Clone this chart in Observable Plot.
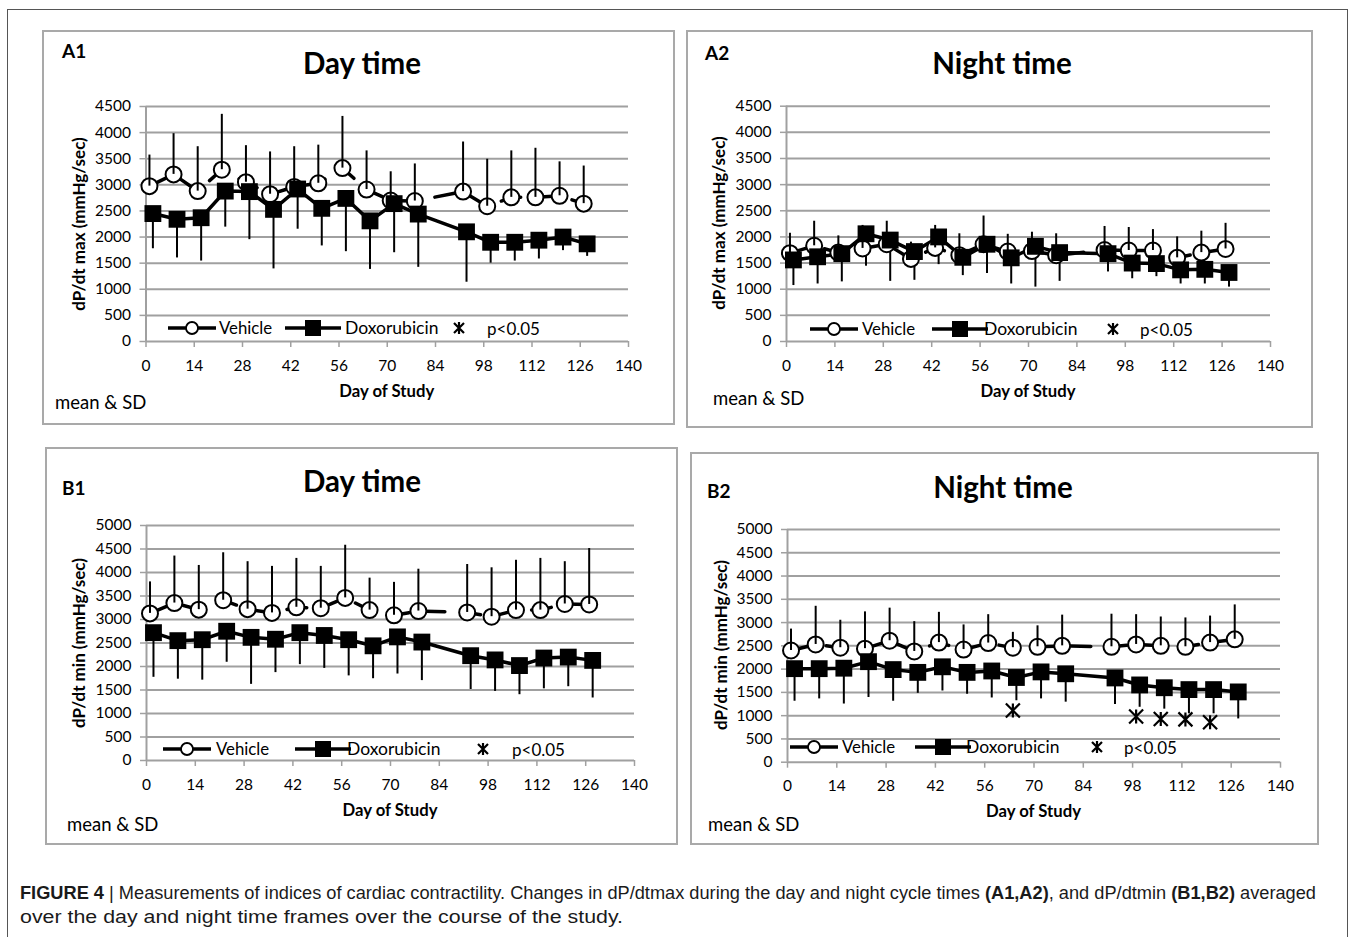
<!DOCTYPE html>
<html><head><meta charset="utf-8">
<script src="https://cdn.jsdelivr.net/npm/d3@7"></script>
<script src="https://cdn.jsdelivr.net/npm/@observablehq/plot@0.6"></script>
<style>
body{margin:0;background:#fff;overflow:hidden;}
#fig{position:relative;width:1355px;height:937px;overflow:hidden;font-family:Lato,sans-serif;color:#000;background:#fff;}
.abs{position:absolute;white-space:nowrap;line-height:1;}
.box{position:absolute;border:2px solid #a9a9a9;box-sizing:border-box;}
.frame{position:absolute;border:1.5px solid #555;box-sizing:border-box;}
</style></head><body><div id="fig"></div>
<script>
// ---------- data ----------
const vehicleDays = [1,8,15,22,29,36,43,50,57,64,71,78,92,99,106,113,120,127];
const doxDays     = [2,9,16,23,30,37,44,51,58,65,72,79,93,100,107,114,121,128];
const xTickValues = [0,14,28,42,56,70,84,98,112,126,140];

// A1: dP/dt max, day time
const a1VehicleMean = [2975,3200,2880,3290,3050,2820,2960,3030,3320,2910,2700,2690,2870,2590,2760,2760,2790,2640];
const a1VehicleSD   = [595,780,850,1060,700,810,770,730,990,740,550,710,950,900,890,940,650,720];
const a1DoxMean     = [2450,2340,2370,2880,2870,2530,2920,2550,2740,2310,2640,2440,2100,1900,1900,1940,2000,1870];
const a1DoxSD       = [674,740,830,690,920,1140,770,720,1020,930,940,1020,965,400,360,360,260,240];

// A2: dP/dt max, night time
const a2VehicleMean = [1690,1830,1700,1780,1860,1580,1790,1650,1860,1720,1730,1650,1750,1740,1740,1600,1700,1770];
const a2VehicleSD   = [380,470,320,440,440,320,430,410,540,330,360,410,450,440,400,400,410,490];
const a2DoxMean     = [1560,1620,1680,2060,1940,1720,2000,1610,1860,1600,1820,1700,1680,1500,1490,1370,1380,1320];
const a2DoxSD       = [490,520,540,620,790,550,530,350,560,500,780,550,350,300,250,270,280,280];

// B1: dP/dt min, day time
const b1VehicleMean = [3130,3350,3210,3410,3220,3140,3260,3240,3460,3200,3090,3180,3150,3060,3200,3200,3330,3320];
const b1VehicleSD   = [670,1000,940,1010,1010,990,1040,890,1120,680,700,890,1020,1040,1060,1100,900,1190];
const b1DoxMean     = [2720,2550,2570,2750,2620,2580,2720,2660,2570,2440,2630,2520,2230,2140,2020,2180,2200,2130];
const b1DoxSD       = [950,820,860,660,1000,710,680,700,770,700,790,820,720,670,620,655,630,800];

// B2: dP/dt min, night time
const b2VehicleMean = [2400,2530,2460,2440,2610,2380,2570,2420,2560,2460,2480,2500,2480,2530,2500,2480,2570,2640];
const b2VehicleSD   = [460,820,590,790,700,640,650,530,610,330,450,660,700,640,620,620,570,740];
const b2DoxMean     = [2010,2010,2020,2160,1990,1930,2050,1930,1960,1820,1940,1900,1810,1660,1600,1560,1560,1510];
const b2DoxSD       = [700,650,770,770,680,450,520,470,580,500,580,610,570,480,460,520,520,580];
const b2StarDays    = [64,99,106,113,120];
const b2StarValues  = [1110,980,930,920,860];

const legendLabels = ["Vehicle","Doxorubicin","p<0.05"];
// ---------- layout ----------
const panels = [
  {id:"A1", title:"Day time", ylabel:"dP/dt max (mmHg/sec)", ymax:4500,
   box:[42,30,633,395], plot:[145.5,628,106,341],
   veh:[a1VehicleMean,a1VehicleSD], dox:[a1DoxMean,a1DoxSD], stars:[[],[]],
   tag:[62,50], titleX:362, titleY:63, yTitleX:78, xTitleY:391, meanSD:[55,402],
   legY:328, legX:[168,219,285,345,459,487]},
  {id:"A2", title:"Night time", ylabel:"dP/dt max (mmHg/sec)", ymax:4500,
   box:[686,30,627,398], plot:[786,1270,105.7,341],
   veh:[a2VehicleMean,a2VehicleSD], dox:[a2DoxMean,a2DoxSD], stars:[[],[]],
   tag:[705,52], titleX:1002, titleY:63, yTitleX:718, xTitleY:391, meanSD:[713,398],
   legY:329, legX:[810,862,932,984,1113,1140]},
  {id:"B1", title:"Day time", ylabel:"dP/dt min (mmHg/sec)", ymax:5000,
   box:[45,447,633,398], plot:[146,634,525,760],
   veh:[b1VehicleMean,b1VehicleSD], dox:[b1DoxMean,b1DoxSD], stars:[[],[]],
   tag:[62,487], titleX:362, titleY:481, yTitleX:78, xTitleY:810, meanSD:[67,824],
   legY:749, legX:[163,216,295,347,483,512]},
  {id:"B2", title:"Night time", ylabel:"dP/dt min (mmHg/sec)", ymax:5000,
   box:[690,452,629,393], plot:[787,1280,529,761.7],
   veh:[b2VehicleMean,b2VehicleSD], dox:[b2DoxMean,b2DoxSD], stars:[b2StarDays,b2StarValues],
   tag:[707,490], titleX:1003, titleY:487, yTitleX:720, xTitleY:811, meanSD:[708,824],
   legY:747, legX:[790,842,915,966,1097,1124]}
];

const fig = document.getElementById("fig");
function addDiv(cls, css, html){
  const d = document.createElement("div");
  d.className = cls; d.style.cssText = css; if (html != null) d.innerHTML = html;
  fig.appendChild(d); return d;
}
const starSymbol = {
  draw(ctx, size){
    const r = Math.sqrt(size/Math.PI);
    ctx.moveTo(-r,-r); ctx.lineTo(r,r);
    ctx.moveTo(r,-r); ctx.lineTo(-r,r);
    ctx.moveTo(0,-r); ctx.lineTo(0,r);
  }
};

addDiv("frame","left:7px;top:9px;width:1341px;height:1000px;");

for (const p of panels){
  const [bx,by,bw,bh] = p.box;
  const [x0,x1,yTop,y0] = p.plot;
  const veh = vehicleDays.map((d,i)=>({day:d, mean:p.veh[0][i], sd:p.veh[1][i]}));
  const dox = doxDays.map((d,i)=>({day:d, mean:p.dox[0][i], sd:p.dox[1][i]}));
  const stars = p.stars[0].map((d,i)=>({day:d, v:p.stars[1][i]}));
  const yTicks = d3.range(0, p.ymax+1, 500);
  const svg = Plot.plot({
    width: bw, height: bh,
    marginLeft: x0-bx, marginRight: bx+bw-x1, marginTop: yTop-by, marginBottom: by+bh-y0,
    x:{domain:[0,140]}, y:{domain:[0,p.ymax]},
    style:{fontFamily:"Lato, sans-serif", fontSize:"15.5px", background:"transparent", overflow:"visible", color:"#000"},
    marks:[
      Plot.gridY(yTicks.filter(v=>v>0), {stroke:"#a0a0a0", strokeOpacity:1, strokeWidth:2}),
      Plot.ruleX([0], {stroke:"#a0a0a0", strokeWidth:2}),
      Plot.ruleY([0], {stroke:"#a0a0a0", strokeWidth:2}),
      Plot.axisY(yTicks, {tickSize:6, tickPadding:9, stroke:"#a0a0a0", strokeWidth:1.5, fill:"#000", label:null, tickFormat:d=>String(d)}),
      Plot.axisX(xTickValues, {tickSize:6, tickPadding:12, stroke:"#a0a0a0", strokeWidth:1.5, fill:"#000", label:null, tickFormat:d=>String(d)}),
      Plot.line(veh, {x:"day", y:"mean", stroke:"#000", strokeWidth:3.5, strokeDasharray:"20,16"}),
      Plot.line(dox, {x:"day", y:"mean", stroke:"#000", strokeWidth:3.5}),
      Plot.ruleX(dox, {x:"day", y1:d=>d.mean-d.sd, y2:"mean", stroke:"#000", strokeWidth:2}),
      Plot.dot(veh, {x:"day", y:"mean", r:8, fill:"#fff", stroke:"#000", strokeWidth:2}),
      Plot.ruleX(veh, {x:"day", y1:"mean", y2:d=>d.mean+d.sd, stroke:"#000", strokeWidth:2}),
      Plot.dot(dox, {x:"day", y:"mean", symbol:"square", r:9.5, fill:"#000"}),
      Plot.dot(stars, {x:"day", y:"v", symbol:starSymbol, r:7, fill:"none", stroke:"#000", strokeWidth:2.2})
    ]
  });
  svg.style.position = "absolute"; svg.style.left = bx+"px"; svg.style.top = by+"px";
  fig.appendChild(svg);
  addDiv("box", `left:${bx}px;top:${by}px;width:${bw}px;height:${bh}px;`);
  addDiv("abs", `left:${p.tag[0]}px;top:${p.tag[1]}px;transform:translateY(-50%);font-weight:700;font-size:19px;`, p.id);
  addDiv("abs", `left:${p.titleX}px;top:${p.titleY}px;transform:translate(-50%,-50%);font-weight:700;font-size:29.5px;`, p.title);
  addDiv("abs", `left:${p.yTitleX}px;top:${(yTop+y0)/2}px;transform:translate(-50%,-50%) rotate(-90deg);font-weight:700;font-size:17px;`, p.ylabel);
  addDiv("abs", `left:${(x0+x1)/2}px;top:${p.xTitleY}px;transform:translate(-50%,-50%);font-weight:700;font-size:16.7px;`, "Day of Study");
  addDiv("abs", `left:${p.meanSD[0]}px;top:${p.meanSD[1]}px;transform:translateY(-50%);font-size:18.5px;`, "mean &amp; SD");
  // legend
  const L = p.legX, ly = p.legY;
  addDiv("abs", `left:${L[0]}px;top:${ly-9}px;`,
    `<svg width="48" height="18"><line x1="0" y1="9" x2="48" y2="9" stroke="#000" stroke-width="3.5"/><circle cx="24" cy="9" r="6" fill="#fff" stroke="#000" stroke-width="1.8"/></svg>`);
  addDiv("abs", `left:${L[1]}px;top:${ly}px;transform:translateY(-50%);font-size:16.8px;`, legendLabels[0]);
  addDiv("abs", `left:${L[2]}px;top:${ly-9}px;`,
    `<svg width="56" height="18"><line x1="0" y1="9" x2="56" y2="9" stroke="#000" stroke-width="3.5"/><rect x="20" y="1" width="16" height="16" fill="#000"/></svg>`);
  addDiv("abs", `left:${L[3]}px;top:${ly}px;transform:translateY(-50%);font-size:17.5px;`, legendLabels[1]);
  addDiv("abs", `left:${L[4]-7}px;top:${ly-7}px;`,
    `<svg width="14" height="14"><path d="M2,2L12,12M12,2L2,12M7,1L7,13" stroke="#000" stroke-width="2.2" fill="none"/></svg>`);
  addDiv("abs", `left:${L[5]}px;top:${ly}px;transform:translateY(-50%);font-size:17px;`, legendLabels[2]);
}

// caption
const cap = document.createElementNS("http://www.w3.org/2000/svg","svg");
cap.setAttribute("width","1355"); cap.setAttribute("height","80");
cap.style.cssText = "position:absolute;left:0;top:870px;";
cap.innerHTML = `<text x="20" y="29" font-family="Liberation Sans, Arial, sans-serif" font-size="17.5" fill="#1a1a1a" textLength="1296" lengthAdjust="spacingAndGlyphs"><tspan font-weight="700">FIGURE 4</tspan> | Measurements of indices of cardiac contractility. Changes in dP/dtmax during the day and night cycle times <tspan font-weight="700">(A1,A2)</tspan>, and dP/dtmin <tspan font-weight="700">(B1,B2)</tspan> averaged</text>
<text x="20" y="53" font-family="Liberation Sans, Arial, sans-serif" font-size="17.5" fill="#1a1a1a" textLength="603" lengthAdjust="spacingAndGlyphs">over the day and night time frames over the course of the study.</text>`;
fig.appendChild(cap);
</script></body></html>
